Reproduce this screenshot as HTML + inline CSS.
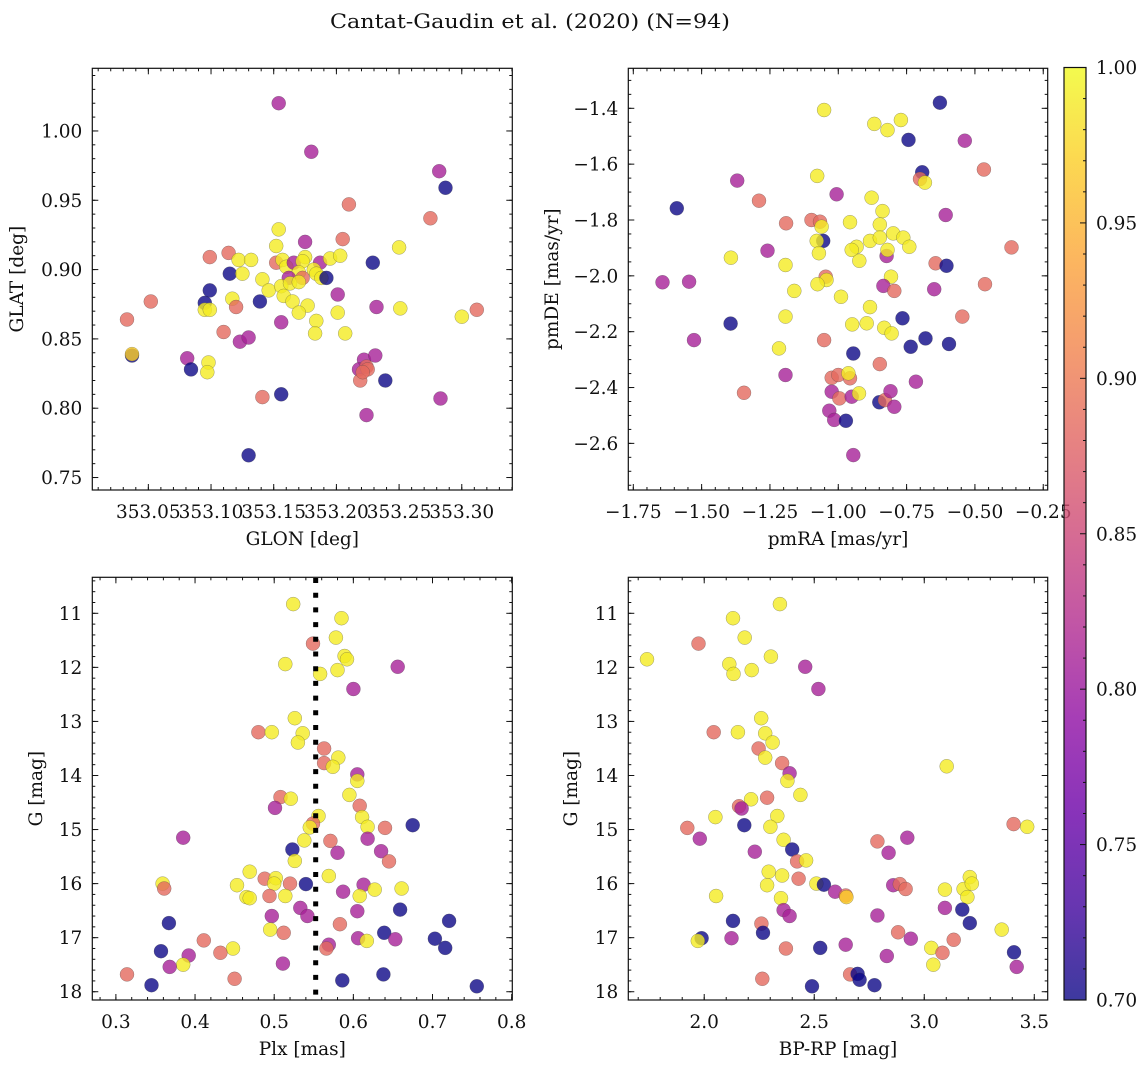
<!DOCTYPE html>
<html><head><meta charset="utf-8">
<style>
html,body{margin:0;padding:0;background:#fff;}
svg text{font-family:"DejaVu Serif","Liberation Serif",serif;fill:#111;}
</style></head>
<body>
<svg id="fig" width="1148" height="1067" viewBox="0 0 1148 1067" xmlns="http://www.w3.org/2000/svg">
<defs>
<linearGradient id="plasmaGrad" x1="0" y1="1" x2="0" y2="0">
<stop offset="0" stop-color="#0d0887"/><stop offset="0.1" stop-color="#41049d"/><stop offset="0.2" stop-color="#6a00a8"/><stop offset="0.3" stop-color="#8f0da4"/><stop offset="0.4" stop-color="#b12a90"/><stop offset="0.5" stop-color="#cc4778"/><stop offset="0.6" stop-color="#e16462"/><stop offset="0.7" stop-color="#f2844b"/><stop offset="0.8" stop-color="#fca636"/><stop offset="0.9" stop-color="#fcce25"/><stop offset="1" stop-color="#f0f921"/>
</linearGradient>
</defs>
<text x="530" y="28" font-size="19.5" text-anchor="middle" textLength="400" lengthAdjust="spacingAndGlyphs">Cantat-Gaudin et al. (2020) (N=94)</text>
</svg>
<script>
// ---- Panel 1: GLON vs GLAT ----
const p1_glon=[353.154,353.180,353.282,353.287,353.210,353.275,353.154,353.175,353.205,353.152,353.250,353.099,353.114,353.122,353.132,353.152,353.157,353.160,353.166,353.175,353.173,353.187,353.195,353.203,353.229,353.115,353.125,353.141,353.146,353.099,353.170,353.173,353.182,353.184,353.188,353.192,353.162,353.156,353.163,353.170,353.158,353.165,353.117,353.120,353.139,353.052,353.033,353.095,353.095,353.099,353.177,353.170,353.201,353.201,353.184,353.232,353.251,353.300,353.312,353.156,353.110,353.123,353.130,353.183,353.207,353.037,353.037,353.081,353.084,353.098,353.097,353.222,353.231,353.218,353.224,353.225,353.219,353.239,353.141,353.156,353.224,353.283,353.130,353.221];
const p1_glat=[1.020,0.985,0.971,0.959,0.947,0.937,0.929,0.920,0.922,0.917,0.916,0.909,0.912,0.907,0.907,0.905,0.907,0.902,0.905,0.909,0.906,0.905,0.908,0.910,0.905,0.897,0.897,0.893,0.885,0.885,0.898,0.894,0.900,0.897,0.894,0.894,0.894,0.888,0.890,0.891,0.881,0.877,0.879,0.873,0.877,0.877,0.864,0.876,0.871,0.871,0.874,0.869,0.882,0.869,0.863,0.873,0.872,0.866,0.871,0.862,0.855,0.848,0.851,0.854,0.854,0.838,0.839,0.836,0.828,0.833,0.826,0.835,0.838,0.828,0.830,0.828,0.820,0.820,0.808,0.810,0.795,0.807,0.766,0.826];
const p1_prob=[0.81,0.81,0.81,0.70,0.885,0.885,0.99,0.81,0.885,0.99,0.99,0.885,0.885,0.99,0.99,0.885,0.99,0.99,0.81,0.99,0.99,0.81,0.99,0.99,0.70,0.70,0.99,0.99,0.99,0.70,0.99,0.885,0.99,0.99,0.99,0.70,0.81,0.99,0.99,0.99,0.99,0.99,0.99,0.885,0.70,0.885,0.885,0.70,0.99,0.99,0.99,0.99,0.81,0.99,0.99,0.81,0.99,0.99,0.885,0.81,0.885,0.81,0.81,0.99,0.99,0.70,0.97,0.81,0.70,0.99,0.99,0.81,0.81,0.81,0.885,0.885,0.885,0.70,0.885,0.70,0.81,0.81,0.70,0.885];
const p1_xticks=[353.05,353.10,353.15,353.20,353.25,353.30];
const p1_xlabels=["353.05","353.10","353.15","353.20","353.25","353.30"];
const p1_yticks=[0.75,0.80,0.85,0.90,0.95,1.00];
const p1_ylabels=["0.75","0.80","0.85","0.90","0.95","1.00"];

// ---- Panel 2: pmRA vs pmDE ----
const p2_pmra=[-0.628,-1.052,-0.868,-0.820,-0.771,-0.743,-0.537,-0.693,-0.701,-0.683,-0.467,-1.370,-1.591,-1.290,-1.077,-1.006,-0.878,-0.838,-0.848,-0.607,-1.191,-1.098,-1.067,-1.061,-1.055,-1.079,-0.957,-0.884,-0.848,-0.799,-0.762,-0.740,-0.933,-0.951,-0.923,-0.823,-0.820,-1.071,-1.259,-1.393,-1.193,-0.644,-0.604,-0.366,-1.643,-1.546,-1.046,-1.043,-1.076,-0.807,-0.835,-0.795,-0.649,-0.463,-1.161,-0.990,-0.884,-1.394,-1.193,-0.949,-0.896,-0.832,-0.805,-0.765,-0.546,-1.528,-1.052,-1.217,-0.735,-0.681,-0.595,-0.945,-0.848,-1.193,-1.024,-1.000,-0.957,-0.963,-0.716,-1.345,-1.024,-0.996,-0.951,-0.924,-0.850,-0.829,-0.809,-0.795,-1.033,-1.015,-0.972,-0.945];
const p2_pmde=[-1.380,-1.406,-1.456,-1.478,-1.442,-1.513,-1.516,-1.629,-1.653,-1.666,-1.619,-1.659,-1.758,-1.731,-1.642,-1.708,-1.720,-1.768,-1.816,-1.782,-1.812,-1.800,-1.806,-1.824,-1.875,-1.875,-1.808,-1.875,-1.863,-1.848,-1.863,-1.896,-1.896,-1.907,-1.946,-1.929,-1.907,-1.919,-1.910,-1.935,-1.961,-1.955,-1.964,-1.898,-2.023,-2.021,-2.003,-2.015,-2.030,-2.003,-2.036,-2.054,-2.048,-2.030,-2.054,-2.075,-2.112,-2.171,-2.146,-2.174,-2.170,-2.186,-2.206,-2.152,-2.146,-2.230,-2.230,-2.260,-2.254,-2.224,-2.244,-2.278,-2.316,-2.355,-2.365,-2.355,-2.367,-2.349,-2.379,-2.419,-2.415,-2.439,-2.433,-2.421,-2.453,-2.445,-2.413,-2.469,-2.483,-2.516,-2.519,-2.642];
const p2_prob=[0.70,0.99,0.99,0.99,0.99,0.70,0.81,0.70,0.885,0.99,0.885,0.81,0.70,0.885,0.99,0.81,0.99,0.99,0.99,0.81,0.885,0.885,0.885,0.99,0.70,0.99,0.99,0.99,0.99,0.99,0.99,0.99,0.99,0.99,0.99,0.81,0.99,0.99,0.81,0.99,0.99,0.885,0.70,0.885,0.81,0.81,0.885,0.99,0.99,0.99,0.81,0.885,0.81,0.885,0.99,0.99,0.99,0.70,0.99,0.99,0.99,0.99,0.99,0.70,0.885,0.81,0.885,0.99,0.70,0.70,0.70,0.70,0.885,0.81,0.885,0.885,0.885,0.99,0.81,0.885,0.81,0.885,0.81,0.99,0.70,0.885,0.81,0.81,0.81,0.81,0.70,0.81];
const p2_xticks=[-1.75,-1.50,-1.25,-1.00,-0.75,-0.50,-0.25];
const p2_xlabels=["\u22121.75","\u22121.50","\u22121.25","\u22121.00","\u22120.75","\u22120.50","\u22120.25"];
const p2_yticks=[-2.6,-2.4,-2.2,-2.0,-1.8,-1.6,-1.4];
const p2_ylabels=["\u22122.6","\u22122.4","\u22122.2","\u22122.0","\u22121.8","\u22121.6","\u22121.4"];

// ---- Panel 3: Plx vs G ----
const p3_plx=[0.524,0.585,0.578,0.549,0.589,0.592,0.514,0.580,0.558,0.656,0.600,0.526,0.480,0.497,0.536,0.530,0.563,0.581,0.563,0.574,0.605,0.605,0.595,0.508,0.521,0.501,0.608,0.556,0.611,0.618,0.549,0.545,0.640,0.675,0.385,0.538,0.571,0.618,0.523,0.580,0.635,0.645,0.526,0.469,0.569,0.359,0.361,0.453,0.488,0.502,0.500,0.520,0.540,0.494,0.465,0.469,0.514,0.587,0.613,0.627,0.608,0.661,0.659,0.605,0.533,0.542,0.497,0.367,0.583,0.721,0.495,0.512,0.639,0.606,0.617,0.653,0.703,0.716,0.411,0.448,0.432,0.357,0.392,0.569,0.566,0.385,0.368,0.511,0.314,0.345,0.450,0.586,0.638,0.756];
const p3_g=[10.83,11.09,11.45,11.56,11.79,11.85,11.94,12.05,12.12,11.99,12.40,12.94,13.20,13.20,13.22,13.39,13.50,13.67,13.77,13.84,13.98,14.10,14.36,14.40,14.43,14.60,14.56,14.75,14.77,14.95,14.89,14.96,14.97,14.92,15.15,15.20,15.21,15.17,15.37,15.43,15.40,15.59,15.58,15.78,15.86,16.00,16.09,16.03,15.91,15.90,16.00,16.00,16.01,16.23,16.25,16.27,16.23,16.15,16.02,16.11,16.23,16.09,16.48,16.51,16.45,16.60,16.60,16.73,16.75,16.69,16.85,16.91,16.91,17.01,17.06,17.03,17.02,17.19,17.05,17.20,17.28,17.25,17.33,17.13,17.20,17.50,17.54,17.48,17.68,17.88,17.76,17.79,17.68,17.90];
const p3_prob=[0.99,0.99,0.99,0.885,0.99,0.99,0.99,0.99,0.99,0.81,0.81,0.99,0.885,0.99,0.99,0.99,0.885,0.99,0.885,0.99,0.81,0.99,0.99,0.885,0.99,0.81,0.885,0.99,0.99,0.99,0.885,0.99,0.885,0.70,0.81,0.99,0.885,0.81,0.70,0.81,0.81,0.885,0.99,0.99,0.99,0.99,0.885,0.99,0.885,0.99,0.99,0.885,0.70,0.885,0.99,0.99,0.99,0.81,0.81,0.99,0.99,0.99,0.70,0.81,0.81,0.81,0.81,0.70,0.885,0.70,0.99,0.885,0.70,0.81,0.99,0.81,0.70,0.70,0.885,0.99,0.885,0.70,0.81,0.81,0.885,0.99,0.81,0.81,0.885,0.70,0.885,0.70,0.70,0.70];
const p3_xticks=[0.3,0.4,0.5,0.6,0.7,0.8];
const p3_xlabels=["0.3","0.4","0.5","0.6","0.7","0.8"];
const gTicks=[11,12,13,14,15,16,17,18];
const gLabels=["11","12","13","14","15","16","17","18"];
const plxRef=[0.5524];

// ---- Panel 4: BP-RP vs G ----
const p4_bprp=[2.344,2.131,2.184,1.974,1.740,2.303,2.114,2.133,2.216,2.459,2.519,2.259,2.043,2.153,2.277,2.311,2.247,2.277,2.354,2.388,2.378,2.437,2.286,2.213,2.158,2.170,2.332,2.051,2.301,2.182,1.923,3.102,3.406,3.468,1.980,2.361,2.400,2.230,2.787,2.838,2.923,2.422,2.463,2.293,2.354,2.286,2.429,2.510,2.544,2.595,2.643,2.646,2.054,2.349,2.859,2.889,2.915,3.094,3.179,3.207,3.216,3.196,3.094,3.173,3.207,2.361,2.388,2.131,2.260,2.267,2.787,2.881,3.352,1.988,1.971,2.124,2.939,3.134,2.643,2.371,2.527,3.032,3.083,2.830,3.408,3.041,3.420,2.663,2.697,2.706,2.264,2.774,2.490];
const p4_g=[10.83,11.09,11.45,11.56,11.85,11.80,11.94,12.12,12.05,11.99,12.40,12.94,13.20,13.20,13.22,13.39,13.50,13.67,13.77,13.96,14.10,14.36,14.41,14.44,14.57,14.61,14.75,14.77,14.95,14.92,14.97,13.83,14.90,14.95,15.17,15.19,15.37,15.41,15.22,15.43,15.15,15.59,15.57,15.78,15.85,16.03,15.91,16.00,16.02,16.15,16.22,16.25,16.23,16.27,16.03,16.01,16.10,16.11,16.10,15.88,16.00,16.25,16.45,16.48,16.73,16.49,16.60,16.69,16.74,16.91,16.59,16.90,16.85,17.01,17.06,17.01,17.02,17.04,17.13,17.20,17.19,17.19,17.28,17.34,17.27,17.50,17.54,17.68,17.67,17.78,17.76,17.88,17.90];
const p4_prob=[0.99,0.99,0.99,0.885,0.99,0.99,0.99,0.99,0.99,0.81,0.81,0.99,0.885,0.99,0.99,0.99,0.885,0.99,0.885,0.81,0.99,0.99,0.885,0.99,0.885,0.81,0.99,0.99,0.99,0.70,0.885,0.99,0.885,0.99,0.81,0.99,0.70,0.81,0.885,0.81,0.81,0.885,0.99,0.99,0.99,0.99,0.885,0.99,0.70,0.81,0.885,0.97,0.99,0.99,0.81,0.885,0.885,0.99,0.99,0.99,0.99,0.99,0.81,0.70,0.70,0.81,0.81,0.70,0.885,0.70,0.81,0.885,0.99,0.70,0.99,0.81,0.81,0.885,0.81,0.885,0.70,0.99,0.885,0.81,0.70,0.99,0.81,0.885,0.70,0.70,0.885,0.70,0.70];
const p4_xticks=[2.0,2.5,3.0,3.5];
const p4_xlabels=["2.0","2.5","3.0","3.5"];

// colorbar
const cbTicks=[0.70,0.75,0.80,0.85,0.90,0.95,1.00];
const cbLabels=["0.70","0.75","0.80","0.85","0.90","0.95","1.00"];

const FS=18.5;
const NS="http://www.w3.org/2000/svg";
const svg=document.getElementById('fig');
const plasma=["#0d0887","#41049d","#6a00a8","#8f0da4","#b12a90","#cc4778","#e16462","#f2844b","#fca636","#fcce25","#f0f921"];
function hex(c){return [parseInt(c.substr(1,2),16),parseInt(c.substr(3,2),16),parseInt(c.substr(5,2),16)];}
function cmap(p){let t=(p-0.7)/0.3;t=Math.max(0,Math.min(1,t));const f=t*10;const i=Math.min(9,Math.floor(f));const r=f-i;const a=hex(plasma[i]),b=hex(plasma[i+1]);return 'rgb('+a.map((v,k)=>Math.round(v+(b[k]-v)*r)).join(',')+')';}
function mk(tag,attrs,parent){const e=document.createElementNS(NS,tag);for(const k in attrs)e.setAttribute(k,attrs[k]);(parent||svg).appendChild(e);return e;}

function panel(name,box,xr,yr,invY,xt,xl,xminor,yt,yl,yminor,xs,ys,ps,xlab,ylab,ylabX){
  const [L,T,R,B]=box;
  const sx=v=>L+(v-xr[0])/(xr[1]-xr[0])*(R-L);
  const sy=invY?(v=>T+(v-yr[0])/(yr[1]-yr[0])*(B-T)):(v=>B-(v-yr[0])/(yr[1]-yr[0])*(B-T));
  const g=mk('g',{});
  
  
  const pts=mk('g',{},g);
  
  
  for(let i=0;i<xs.length;i++){
    const c=mk('circle',{cx:sx(xs[i]).toFixed(1),cy:sy(ys[i]).toFixed(1),r:7,fill:cmap(ps[i]),'fill-opacity':0.8,stroke:'#444','stroke-opacity':0.5,'stroke-width':0.5},pts);
    
    
  }
  const fr=mk('rect',{x:L,y:T,width:R-L,height:B-T,fill:'none',stroke:'#111','stroke-width':1.2},g);
  
  
  const tk=mk('g',{stroke:'#111','stroke-width':1},g);
  
  
  function xtick(v,len){const x=sx(v);if(x<L-0.5||x>R+0.5)return;mk('line',{x1:x,y1:B,x2:x,y2:B-len},tk);mk('line',{x1:x,y1:T,x2:x,y2:T+len},tk);}
  function ytick(v,len){const y=sy(v);if(y<T-0.5||y>B+0.5)return;mk('line',{x1:L,y1:y,x2:L+len,y2:y},tk);mk('line',{x1:R,y1:y,x2:R-len,y2:y},tk);}
  for(let v=Math.ceil(xr[0]/xminor-1e-6)*xminor;v<=xr[1]+1e-9;v+=xminor)xtick(v,3);
  for(let v=Math.ceil(Math.min(yr[0],yr[1])/yminor-1e-6)*yminor;v<=Math.max(yr[0],yr[1])+1e-9;v+=yminor)ytick(v,3);
  xt.forEach((v,i)=>{xtick(v,6);const t=mk('text',{x:sx(v),y:B+28,'font-size':FS,'text-anchor':'middle'},g);t.textContent=xl[i];});
  yt.forEach((v,i)=>{ytick(v,6);const t=mk('text',{x:L-10,y:sy(v)+6.5,'font-size':FS,'text-anchor':'end'},g);t.textContent=yl[i];});
  const xa=mk('text',{x:(L+R)/2,y:B+55,'font-size':FS,'text-anchor':'middle'},g);xa.textContent=xlab;
  
  
  const cy=(T+B)/2;
  const ya=mk('text',{x:ylabX,y:cy,'font-size':FS,'text-anchor':'middle',transform:'rotate(-90 '+ylabX+' '+cy+')'},g);ya.textContent=ylab;
  
  
  return {sx,sy,g};
}

panel('glon-glat',[92.3,68.3,512.3,490],[353.0053,353.3403],[0.7410,1.0452],false,p1_xticks,p1_xlabels,0.01,p1_yticks,p1_ylabels,0.01,p1_glon,p1_glat,p1_prob,'GLON [deg]','GLAT [deg]',23);
panel('pm',[628.3,68.3,1047.7,490],[-1.7683,-0.2337],[-2.767,-1.2567],false,p2_xticks,p2_xlabels,0.05,p2_yticks,p2_ylabels,0.05,p2_pmra,p2_pmde,p2_prob,'pmRA [mas/yr]','pmDE [mas/yr]',558);
const P3=panel('plx-g',[92.3,577.3,512.3,1000],[0.2702,0.8008],[10.334,18.153],true,p3_xticks,p3_xlabels,0.02,gTicks,gLabels,0.2,p3_plx,p3_g,p3_prob,'Plx [mas]','G [mag]',42);
panel('cmd',[628.3,577.3,1047.7,1000],[1.655,3.561],[10.334,18.153],true,p4_xticks,p4_xlabels,0.1,gTicks,gLabels,0.2,p4_bprp,p4_g,p4_prob,'BP-RP [mag]','G [mag]',577);

// reference parallax line
plxRef.forEach(v=>{
  const ln=mk('line',{x1:P3.sx(v),y1:578,x2:P3.sx(v),y2:1000,stroke:'#000','stroke-width':5,'stroke-dasharray':'5,9.7'},P3.g);
  
  
});

// colorbar
const cbL=1064,cbR=1086,cbT=67.5,cbB=1000;
const cb=mk('g',{});


mk('rect',{x:cbL,y:cbT,width:cbR-cbL,height:cbB-cbT,fill:'url(#plasmaGrad)','fill-opacity':0.8},cb);
mk('rect',{x:cbL,y:cbT,width:cbR-cbL,height:cbB-cbT,fill:'none',stroke:'#111','stroke-width':1.2},cb);
const cby=v=>cbB-(v-0.7)/0.3*(cbB-cbT);
for(let k=70;k<=100;k++){const v=k/100;const y=cby(v);const major=(k%5===0);mk('line',{x1:cbR,y1:y,x2:cbR-(major?6:3),y2:y,stroke:'#111','stroke-width':1},cb);}
cbTicks.forEach((v,i)=>{const t=mk('text',{x:cbR+10,y:cby(v)+6.5,'font-size':FS},cb);t.textContent=cbLabels[i];
  
  });
</script>
</body></html>
